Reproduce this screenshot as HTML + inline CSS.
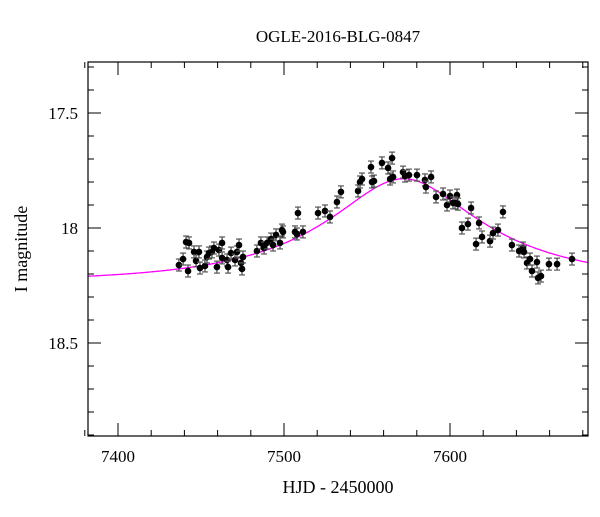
<!DOCTYPE html>
<html><head><meta charset="utf-8"><style>
body{margin:0;background:#fff}
svg text{font-family:"Liberation Serif",serif;fill:#000}
</style></head><body>
<svg id="chart" width="600" height="512" viewBox="0 0 600 512">
<rect width="600" height="512" fill="#fff"/>
<text x="338" y="42" font-size="17" text-anchor="middle">OGLE-2016-BLG-0847</text>
<text x="338" y="493" font-size="18" text-anchor="middle">HJD - 2450000</text>
<text x="27" y="249" font-size="18" text-anchor="middle" transform="rotate(-90 27 249)">I magnitude</text>
<g id="ticks"></g><g id="model"></g><g id="points"></g>
<rect x="88" y="62" width="500" height="374" fill="none" stroke="#000" stroke-width="1.2"/>
</svg>
<script>
const hjd=[7436.7,7439.2,7441.0,7442.8,7442.2,7445.8,7447.0,7448.8,7449.4,7452.4,7453.6,7454.8,7456.6,7457.8,7459.6,7460.8,7462.7,7462.7,7465.7,7466.3,7468.1,7470.5,7471.7,7472.9,7474.1,7474.7,7475.3,7483.7,7486.1,7488.0,7489.8,7492.2,7493.4,7495.2,7497.6,7498.8,7499.4,7506.6,7507.8,7508.4,7511.4,7520.5,7524.7,7527.7,7531.9,7534.3,7544.6,7545.8,7547.0,7552.4,7553.0,7554.2,7559.0,7562.7,7565.1,7563.9,7565.7,7571.7,7572.9,7575.3,7580.1,7584.9,7585.5,7588.6,7591.6,7595.8,7598.2,7600.0,7604.2,7601.8,7603.0,7604.8,7607.2,7610.8,7612.7,7615.7,7617.5,7619.3,7624.1,7625.9,7628.9,7631.9,7637.3,7641.6,7644.0,7644.6,7646.4,7648.2,7649.4,7652.4,7653.0,7654.8,7659.6,7664.5,7673.5];
const mag=[18.161,18.135,18.061,18.065,18.187,18.104,18.143,18.104,18.174,18.165,18.126,18.109,18.104,18.087,18.170,18.096,18.065,18.130,18.139,18.170,18.109,18.139,18.104,18.074,18.152,18.178,18.126,18.100,18.065,18.087,18.065,18.048,18.074,18.030,18.065,18.009,18.017,18.017,18.026,17.935,18.017,17.935,17.926,17.952,17.887,17.843,17.839,17.800,17.787,17.735,17.800,17.796,17.717,17.739,17.696,17.787,17.778,17.757,17.774,17.770,17.770,17.791,17.822,17.778,17.865,17.852,17.900,17.861,17.857,17.891,17.891,17.896,18.000,17.983,17.913,18.070,17.978,18.039,18.057,18.022,18.009,17.930,18.074,18.100,18.087,18.104,18.152,18.135,18.187,18.148,18.217,18.209,18.157,18.157,18.135];
const errMag=0.026;
const xTicks=[7400,7500,7600];
const yTicks=[17.5,18,18.5];
const model={t0:7572,tE:106.6,u0:0.39,fs:0.3,base:18.235};
const X=t=>118+(t-7400)*1.66;
const Y=m=>228+(m-18)*230;
const NS="http://www.w3.org/2000/svg";
function mk(tag,attrs,parent){const e=document.createElementNS(NS,tag);for(const k in attrs)e.setAttribute(k,attrs[k]);parent.appendChild(e);return e;}
const tg=document.getElementById('ticks');
for(let t=7380;t<=7680;t+=20){const x=X(t);const major=t%100===0;const L=major?13:6;
 const a=mk('line',{x1:x,y1:436,x2:x,y2:436-L,stroke:'#000'},tg);
 const b=mk('line',{x1:x,y1:62,x2:x,y2:62+L,stroke:'#000'},tg);}
xTicks.forEach(t=>{const e=mk('text',{x:X(t),y:462,'font-size':17,'text-anchor':'middle'},tg);e.textContent=t;});
for(let i=0;i<=16;i++){const m=17.3+i*0.1;const y=Y(m);if(y<62||y>436)continue;const major=Math.abs(m*2-Math.round(m*2))<1e-6;const L=major?13:6;
 const a=mk('line',{x1:88,y1:y,x2:88+L,y2:y,stroke:'#000'},tg);
 const b=mk('line',{x1:588,y1:y,x2:588-L,y2:y,stroke:'#000'},tg);}
yTicks.forEach(m=>{const e=mk('text',{x:78,y:Y(m)+6,'font-size':17,'text-anchor':'end'},tg);e.textContent=String(m);});
function modelMag(t){const u=Math.sqrt(model.u0*model.u0+Math.pow((t-model.t0)/model.tE,2));const A=(u*u+2)/(u*Math.sqrt(u*u+4));return model.base-2.5*Math.log10(model.fs*(A-1)+1);}
let d='';for(let t=7382;t<=7683;t+=1){d+=(d?'L':'M')+X(t).toFixed(1)+','+Y(modelMag(t)).toFixed(1);}
const p=mk('path',{d:d,fill:'none',stroke:'#ff00ff','stroke-width':1.3},document.getElementById('model'));

const pg=document.getElementById('points');
hjd.forEach((t,i)=>{const x=X(t),y=Y(mag[i]),e=errMag*230;
 const g=mk('g',{},pg);
 mk('line',{x1:x,y1:y-e,x2:x,y2:y+e,stroke:'#222','stroke-width':1},g);
 mk('line',{x1:x-3,y1:y-e,x2:x+3,y2:y-e,stroke:'#555','stroke-width':1.2},g);
 mk('line',{x1:x-3,y1:y+e,x2:x+3,y2:y+e,stroke:'#555','stroke-width':1.2},g);
 mk('circle',{cx:x,cy:y,r:3.3,fill:'#000'},g);});
</script>
</body></html>
